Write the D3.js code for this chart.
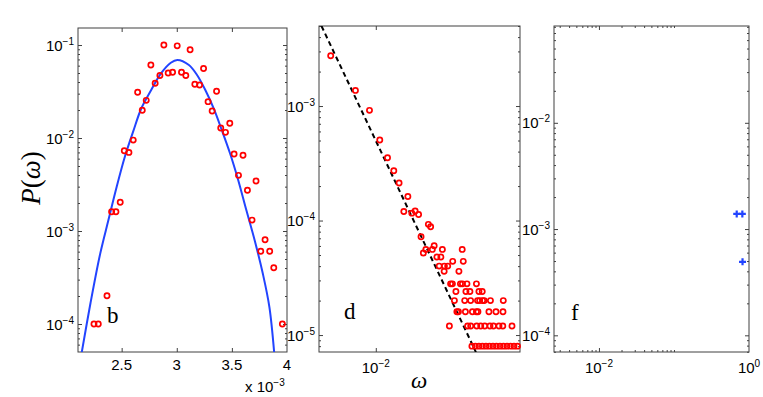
<!DOCTYPE html>
<html>
<head>
<meta charset="utf-8">
<script src="https://cdn.jsdelivr.net/npm/d3@7"></script>
<style>
  body { margin: 0; background: #fff; }
  svg { display: block; }
  text { font-family: "Liberation Sans", Arial, sans-serif; fill: #000; }
  .serif { font-family: "Liberation Serif", "DejaVu Serif", serif; }
</style>
</head>
<body>
<div id="chart-area"></div>
<script>
// ---- panel b: omega in units of 1e-3 ----
const omegaB = [2.883, 3.004, 3.121, 2.765, 3.243, 2.847, 2.922, 2.962, 3.043, 3.082,
  2.804, 3.164, 3.207, 2.645, 3.361, 2.723, 2.687, 3.284, 3.321, 3.399,
  3.442, 3.481, 2.605, 2.524, 2.566, 3.520, 3.601, 3.560, 3.719, 3.641,
  2.487, 2.409, 2.448, 3.683, 3.801, 3.762, 3.843, 3.880, 2.367, 2.249,
  2.288, 3.958]
const probB = [0.100, 0.098, 0.089, 0.061, 0.056, 0.047, 0.050, 0.051, 0.051, 0.047,
  0.0388, 0.0378, 0.0372, 0.031, 0.0318, 0.0254, 0.0199, 0.0246, 0.0195, 0.0128,
  0.0115, 0.0144, 0.0095, 0.0073, 0.0070, 0.00673, 0.00652, 0.00397, 0.00345, 0.00274,
  0.00204, 0.00161, 0.00161, 0.00131, 0.000805, 0.000605, 0.000605, 0.000403, 0.000201, 1e-4,
  1e-4, 1e-4]
// fitted curve
const fitOmegaB = [2.137, 2.217, 2.306, 2.380, 2.455, 2.529, 2.604, 2.679, 2.768, 2.857,
  2.946, 3.005, 3.110, 3.184, 3.259, 3.334, 3.408, 3.483, 3.557, 3.631,
  3.706, 3.780, 3.840, 3.884]
const fitProbB = [4.88e-5, 1.67e-4, 5.75e-4, 1.31e-3, 2.99e-3, 6.29e-3, 1.17e-2, 2.09e-2, 3.28e-2, 4.96e-2,
  6.45e-2, 6.9e-2, 6.1e-2, 4.76e-2, 3.28e-2, 2.09e-2, 1.22e-2, 6.85e-3, 3.54e-3, 1.68e-3,
  8.0e-4, 3.51e-4, 1.53e-4, 4.88e-5]

// ---- panel d ----
const omegaD = [0.00501, 0.00732, 0.00908, 0.01063, 0.01197, 0.01318, 0.01429, 0.01635, 0.01537, 0.01738,
  0.01828, 0.01927, 0.02239, 0.02318, 0.02001, 0.02447, 0.02154, 0.02379, 0.02775, 0.03761,
  0.02073, 0.02551, 0.02712, 0.03251, 0.03822, 0.02642, 0.02862, 0.03011, 0.02852, 0.03576]
const probD = [2.75e-3, 1.37e-3, 9.17e-4, 5.05e-4, 3.54e-4, 2.72e-4, 2.13e-4, 1.62e-4, 1.20e-4, 1.16e-4,
  1.21e-4, 1.13e-4, 9.26e-5, 8.83e-5, 7.22e-5, 6.03e-5, 5.6e-5, 5.6e-5, 5.6e-5, 5.6e-5,
  5.2e-5, 4.8e-5, 4.8e-5, 4.4e-5, 4.4e-5, 4.0e-5, 4.0e-5, 4.0e-5, 3.6e-5, 3.6e-5]
// low-count rows (same P on each row)
const levelsD = [2.8e-5, 2.4e-5, 2.0e-5, 1.6e-5, 1.2e-5, 8e-6]
const rowOmegaD = [
  [0.03148, 0.03236, 0.03660, 0.03774, 0.04045, 0.04677],
  [0.03415, 0.03981, 0.04232, 0.04860, 0.05112],
  [0.03337, 0.03908, 0.04278, 0.04756, 0.04912, 0.05143, 0.05272, 0.05798, 0.07058],
  [0.03467, 0.03548, 0.03950, 0.04398, 0.04677, 0.04786, 0.05665, 0.0631, 0.07026],
  [0.0309, 0.04088, 0.04285, 0.04699, 0.04995, 0.05313, 0.05754, 0.06072, 0.06607, 0.07004, 0.08066],
  [0.04365, 0.04606, 0.04860, 0.05129, 0.05412, 0.05710, 0.06026, 0.06358, 0.06709, 0.07079,
   0.07470, 0.07882, 0.08318, 0.08776]
]
const fitOmegaD = [0.00435, 0.0464]
const fitProbD = [5.0e-3, 7.1e-6]

// ---- panel f ----
const omegaF = [0.686, 0.815, 0.82]
const probF = [1.387e-3, 1.387e-3, 4.92e-4]

const frameColor = '#404040'
const red = '#ff0000'
const blue = '#2244ff'

const svg = d3.select('#chart-area').append('svg')
    .attr('width', 763)
    .attr('height', 397)

function powLabel(sel, exp) {
    sel.append('tspan').text('10')
    sel.append('tspan').attr('dy', -6).attr('font-size', 10)
        .text(exp < 0 ? '\u2212' + (-exp) : exp)
}

function logMinor(domain, mantissas) {
    const out = []
    const lo = Math.floor(Math.log10(domain[0])), hi = Math.ceil(Math.log10(domain[1]))
    for (let e = lo; e <= hi; e++) {
        mantissas.forEach(m => {
            const v = m * Math.pow(10, e)
            if (v > domain[0] && v < domain[1]) out.push(v)
        })
    }
    return out
}

function drawTicks(g, scale, orient, values, size, w, h) {
    let axis, tr
    if (orient === 'bottom') { axis = d3.axisBottom(scale); tr = `translate(0,${h})` }
    if (orient === 'top') { axis = d3.axisTop(scale); tr = 'translate(0,0)' }
    if (orient === 'left') { axis = d3.axisLeft(scale); tr = 'translate(0,0)' }
    if (orient === 'right') { axis = d3.axisRight(scale); tr = `translate(${w},0)` }
    axis.tickValues(values).tickSize(-size).tickFormat('')
    const a = g.append('g').attr('transform', tr).call(axis)
    a.select('.domain').remove()
    a.selectAll('line').attr('stroke', frameColor).attr('stroke-width', 1)
}

function makePanel(id, box, xScale, yScale) {
    const w = box.right - box.left, h = box.bottom - box.top
    xScale.range([0, w])
    yScale.range([h, 0])
    const g = svg.append('g').attr('transform', `translate(${box.left}, ${box.top})`)
    g.append('clipPath').attr('id', 'clip-' + id)
        .append('rect').attr('width', w).attr('height', h)
    return { g, w, h, x: xScale, y: yScale, clip: `url(#clip-${id})` }
}

function frame(p) {
    p.g.append('rect')
        .attr('width', p.w).attr('height', p.h)
        .attr('fill', 'none').attr('stroke', frameColor).attr('stroke-width', 1)
}

function yLogAxis(p, majors) {
    const yd = p.y.domain()
    const minors = logMinor(yd, [2, 3, 4, 5, 6, 7, 8, 9])
    ;['left', 'right'].forEach(o => {
        drawTicks(p.g, p.y, o, majors, 4, p.w, p.h)
        drawTicks(p.g, p.y, o, minors, 2, p.w, p.h)
    })
    majors.forEach(v => {
        const t = p.g.append('text')
            .attr('x', -4).attr('y', p.y(v) + 5.5)
            .attr('text-anchor', 'end').attr('font-size', 15)
        powLabel(t, Math.round(Math.log10(v)))
    })
}

function circles(p, xs, ys) {
    p.g.append('g').selectAll('circle')
        .data(xs.map((d, i) => [d, ys[i]]))
        .enter().append('circle')
        .attr('cx', d => p.x(d[0]))
        .attr('cy', d => p.y(d[1]))
        .attr('r', 2.6)
        .attr('fill', 'none')
        .attr('stroke', red)
        .attr('stroke-width', 1.7)
}

// ================= panel b =================
const pb = makePanel('b', { left: 78, top: 28, right: 287, bottom: 352 },
    d3.scaleLinear().domain([2.104, 4.0]),
    d3.scaleLog().domain([Math.pow(10, -4.301), Math.pow(10, -0.817)]))

frame(pb)
const xTicksB = [2.5, 3, 3.5, 4]
drawTicks(pb.g, pb.x, 'bottom', xTicksB.slice(0, 3), 4, pb.w, pb.h)
drawTicks(pb.g, pb.x, 'top', xTicksB.slice(0, 3), 4, pb.w, pb.h)
yLogAxis(pb, [1e-1, 1e-2, 1e-3, 1e-4])
pb.g.selectAll('.xlab').data(xTicksB).enter().append('text')
    .attr('x', d => pb.x(d)).attr('y', pb.h + 18)
    .attr('text-anchor', 'middle').attr('font-size', 15)
    .text(d => d)
const mult = svg.append('text').attr('x', 245).attr('y', 392).attr('font-size', 15)
mult.append('tspan').text('x ')
powLabel(mult, -3)

pb.g.append('path')
    .datum(fitOmegaB.map((d, i) => [d, fitProbB[i]]))
    .attr('clip-path', pb.clip)
    .attr('fill', 'none').attr('stroke', blue).attr('stroke-width', 2)
    .attr('d', d3.line().x(d => pb.x(d[0])).y(d => pb.y(d[1])).curve(d3.curveCatmullRom))
circles(pb, omegaB, probB)

// ================= panel d =================
const pd = makePanel('d', { left: 319, top: 26, right: 520, bottom: 352 },
    d3.scaleLog().domain([Math.pow(10, -2.378), Math.pow(10, -1.04)]),
    d3.scaleLog().domain([Math.pow(10, -5.148), Math.pow(10, -2.301)]))

frame(pd)
drawTicks(pd.g, pd.x, 'bottom', [0.01], 4, pd.w, pd.h)
drawTicks(pd.g, pd.x, 'top', [0.01], 4, pd.w, pd.h)
yLogAxis(pd, [1e-3, 1e-4, 1e-5])
const xlabD = pd.g.append('text').attr('x', pd.x(0.01)).attr('y', pd.h + 21)
    .attr('text-anchor', 'middle').attr('font-size', 15)
powLabel(xlabD, -2)

pd.g.append('path')
    .datum(fitOmegaD.map((d, i) => [d, fitProbD[i]]))
    .attr('clip-path', pd.clip)
    .attr('fill', 'none').attr('stroke', '#000').attr('stroke-width', 2)
    .attr('stroke-dasharray', '5,3.5')
    .attr('d', d3.line().x(d => pd.x(d[0])).y(d => pd.y(d[1])))
circles(pd, omegaD, probD)
levelsD.forEach((lv, i) => circles(pd, rowOmegaD[i], rowOmegaD[i].map(() => lv)))

// ================= panel f =================
const pf = makePanel('f', { left: 554, top: 26, right: 749, bottom: 352 },
    d3.scaleLog().domain([Math.pow(10, -2.599), 1]),
    d3.scaleLog().domain([Math.pow(10, -4.157), Math.pow(10, -1.089)]))

frame(pf)
const xMinorF = logMinor([Math.pow(10, -2.599), 0.095], [2, 3, 4, 5, 6, 7, 8, 9]).concat([0.1])
;['bottom', 'top'].forEach(o => {
    drawTicks(pf.g, pf.x, o, [0.01], 4, pf.w, pf.h)
    drawTicks(pf.g, pf.x, o, xMinorF, 2, pf.w, pf.h)
})
yLogAxis(pf, [1e-2, 1e-3, 1e-4])
;[0.01, 1].forEach(v => {
    const t = pf.g.append('text').attr('x', pf.x(v)).attr('y', pf.h + 21)
        .attr('text-anchor', 'middle').attr('font-size', 15)
    powLabel(t, Math.round(Math.log10(v)))
})

pf.g.append('g').selectAll('path')
    .data(omegaF.map((d, i) => [d, probF[i]]))
    .enter().append('path')
    .attr('transform', d => `translate(${pf.x(d[0])}, ${pf.y(d[1])})`)
    .attr('d', 'M-3.5,0H3.5M0,-3.5V3.5')
    .attr('stroke', blue).attr('stroke-width', 2.2)
    .attr('fill', 'none')

// ================= labels =================
const ylab = svg.append('text')
    .attr('class', 'serif')
    .attr('transform', 'translate(40, 178) rotate(-90)')
    .attr('text-anchor', 'middle')
    .attr('font-size', 27)
ylab.append('tspan').attr('font-style', 'italic').text('P')
ylab.append('tspan').text('(')
ylab.append('tspan').attr('font-style', 'italic').text('\u03c9')
ylab.append('tspan').text(')')

svg.append('text').attr('class', 'serif')
    .attr('x', 419).attr('y', 388)
    .attr('text-anchor', 'middle').attr('font-size', 23)
    .attr('font-style', 'italic')
    .text('\u03c9')

const panelTags = [['b', 107, 323], ['d', 344, 319], ['f', 571, 320]]
panelTags.forEach(t => {
    svg.append('text').attr('class', 'serif')
        .attr('x', t[1]).attr('y', t[2])
        .attr('font-size', 23)
        .text(t[0])
})
</script>
</body>
</html>
